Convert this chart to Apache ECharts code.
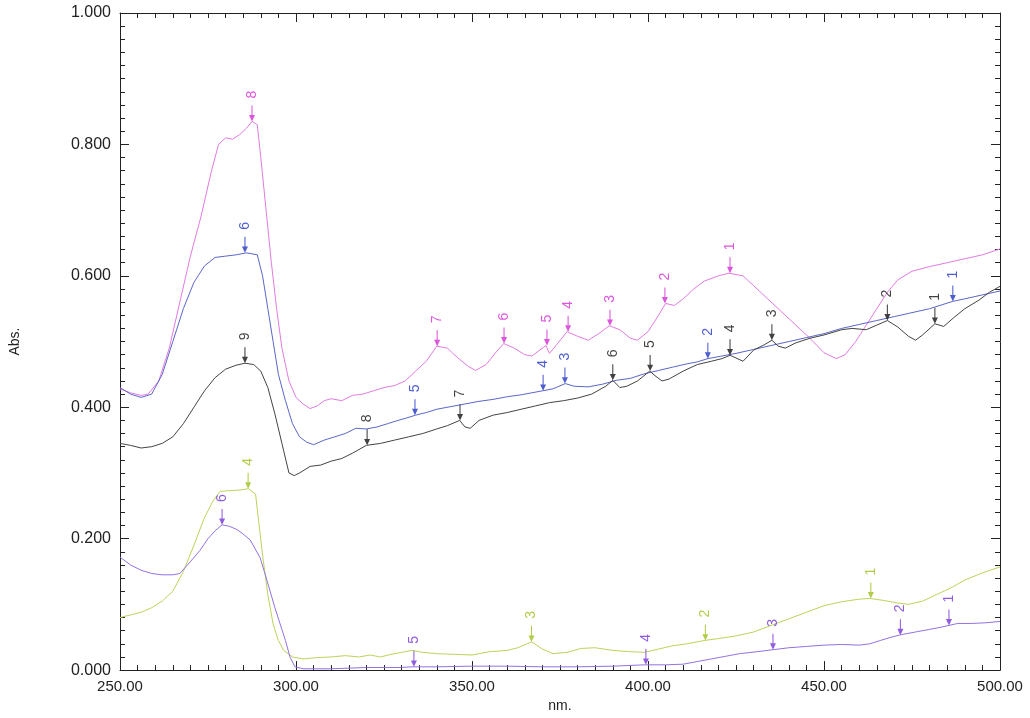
<!DOCTYPE html>
<html>
<head>
<meta charset="utf-8">
<script src="https://cdn.jsdelivr.net/npm/echarts@6/dist/echarts.min.js"></script>
<style>html,body{margin:0;padding:0;background:#fff;}#c{width:1030px;height:718px;}</style>
</head>
<body>
<div id="c"></div>
<script>
// ---- data: [wavelength nm, absorbance] ----
const magentaData = [[250,0.428],[253,0.422],[256,0.418],[258,0.42],[261,0.44],[264,0.49],[267,0.56],[270,0.63],[273,0.69],[276,0.76],[278,0.8],[280,0.81],[282,0.808],[284,0.815],[286,0.825],[287.5,0.835],[289,0.83],[290,0.78],[291.5,0.7],[293,0.62],[294.5,0.55],[296,0.49],[298,0.44],[300,0.415],[302,0.405],[304,0.398],[306,0.402],[308,0.41],[310,0.413],[313,0.41],[316,0.418],[319,0.42],[322,0.425],[325,0.43],[328,0.433],[331,0.44],[334,0.455],[337,0.47],[340,0.493],[343,0.49],[346,0.475],[349,0.462],[351,0.456],[354,0.465],[357,0.485],[359,0.497],[362,0.49],[365,0.48],[367,0.478],[369,0.486],[371,0.494],[372,0.482],[374,0.495],[377,0.515],[380,0.508],[383,0.502],[386,0.512],[389,0.524],[392,0.518],[395,0.505],[397,0.502],[400,0.515],[403,0.54],[405,0.558],[407.5,0.555],[410,0.565],[413,0.58],[416,0.592],[420,0.6],[423,0.604],[427,0.6],[430,0.585],[434,0.565],[438,0.545],[442,0.525],[446,0.505],[450,0.483],[453.5,0.474],[456,0.48],[459,0.5],[462,0.525],[465,0.55],[468,0.575],[471,0.594],[475,0.607],[480,0.614],[485,0.62],[490,0.626],[495,0.632],[500,0.641]];
const blueData = [[250,0.43],[253,0.42],[256,0.415],[259,0.42],[262,0.45],[265,0.5],[268,0.55],[271,0.59],[274,0.615],[277,0.628],[280,0.63],[283,0.632],[286,0.635],[289,0.632],[290.5,0.6],[292,0.55],[293.5,0.5],[295,0.45],[297,0.41],[299,0.375],[301,0.355],[303,0.347],[305,0.343],[308,0.35],[311,0.355],[314,0.36],[317,0.368],[320,0.367],[323,0.37],[326,0.375],[329,0.38],[331,0.383],[334,0.388],[337,0.392],[340,0.397],[344,0.401],[348,0.405],[352,0.409],[356,0.412],[360,0.416],[364,0.419],[367,0.422],[370,0.425],[373,0.428],[376.5,0.436],[379,0.432],[383,0.431],[387,0.435],[391,0.441],[395,0.444],[399,0.451],[403,0.456],[407,0.461],[411,0.466],[414,0.469],[417,0.474],[421,0.478],[425,0.482],[430,0.488],[435,0.494],[440,0.5],[445,0.506],[450,0.512],[455,0.52],[460,0.526],[465,0.532],[470,0.538],[475,0.544],[480,0.55],[486.5,0.561],[490,0.565],[495,0.571],[500,0.577]];
const blackData = [[250,0.345],[253,0.342],[256,0.338],[259,0.34],[262,0.345],[265,0.355],[268,0.375],[271,0.4],[274,0.425],[277,0.445],[280,0.458],[283,0.464],[285.5,0.467],[288,0.465],[290,0.455],[292,0.43],[294,0.39],[296,0.345],[298,0.3],[299.5,0.296],[301,0.3],[304,0.31],[307,0.312],[310,0.318],[313,0.322],[316,0.33],[320,0.342],[324,0.345],[328,0.35],[332,0.355],[336,0.36],[340,0.367],[343,0.372],[346.5,0.38],[348,0.37],[349.5,0.368],[352,0.38],[356,0.388],[360,0.392],[364,0.397],[368,0.402],[372,0.407],[376,0.41],[380,0.414],[384,0.42],[388,0.432],[390,0.441],[392,0.43],[394,0.432],[397,0.44],[400.5,0.455],[402,0.448],[404,0.44],[406,0.443],[410,0.455],[414,0.465],[418,0.47],[421,0.474],[423.3,0.479],[425,0.475],[427,0.47],[430,0.487],[433,0.495],[435.2,0.502],[437,0.493],[439,0.49],[442,0.498],[446,0.505],[450,0.51],[455,0.518],[458,0.52],[462,0.518],[465,0.525],[468,0.532],[471,0.522],[474,0.508],[476,0.502],[478,0.51],[481.5,0.527],[484,0.523],[487,0.537],[490,0.55],[494,0.563],[497,0.575],[500,0.584]];
const yellowData = [[250,0.08],[253,0.084],[256,0.088],[259,0.095],[262,0.105],[265,0.12],[268,0.15],[271,0.19],[274,0.232],[276.5,0.258],[278.5,0.272],[281,0.273],[284,0.274],[286.5,0.276],[288.5,0.268],[290.6,0.171],[292,0.115],[293.5,0.07],[295,0.045],[296.5,0.03],[299,0.02],[302,0.017],[306,0.019],[310,0.02],[314,0.022],[318,0.02],[321,0.023],[324,0.02],[327,0.024],[330,0.027],[333,0.03],[336,0.027],[340,0.025],[345,0.024],[350,0.023],[355,0.028],[360,0.03],[363,0.034],[367,0.043],[370,0.032],[373,0.025],[377,0.027],[381,0.033],[385,0.034],[390,0.03],[395,0.028],[399,0.027],[403,0.032],[407,0.037],[411,0.04],[416,0.045],[420,0.048],[425,0.052],[430,0.058],[435,0.068],[440,0.078],[445,0.088],[450,0.098],[455,0.104],[460,0.108],[463,0.109],[467,0.106],[471,0.102],[474,0.1],[478,0.105],[482,0.115],[486,0.125],[490,0.137],[495,0.148],[500,0.157]];
const purpleData = [[250,0.172],[253,0.16],[256,0.152],[259,0.147],[262,0.145],[265,0.145],[267,0.147],[270,0.165],[272.7,0.182],[275,0.2],[277,0.212],[279,0.221],[281,0.219],[283.2,0.214],[285,0.207],[287,0.198],[289.8,0.171],[291,0.15],[292.6,0.121],[294,0.095],[295.5,0.07],[297,0.045],[298.3,0.02],[299.7,0.005],[302,0.002],[310,0.002],[320,0.004],[330,0.004],[333,0.005],[340,0.005],[350,0.006],[360,0.006],[370,0.005],[380,0.005],[390,0.006],[399,0.008],[405,0.008],[410,0.009],[414,0.013],[418,0.017],[422,0.021],[426,0.025],[431,0.028],[435.5,0.031],[440,0.034],[445,0.036],[450,0.038],[455,0.039],[460,0.038],[463,0.04],[466,0.045],[469,0.05],[472,0.054],[476,0.058],[480,0.062],[483,0.065],[485.5,0.068],[488,0.071],[492,0.071],[496,0.072],[500,0.074]];

// ---- peak markers: [nm, abs, label] ----
const magentaPeaks = [[423.3,0.604,'1'],[404.8,0.558,'2'],[389.2,0.524,'3'],[377.3,0.515,'4'],[371.3,0.494,'5'],[359.1,0.497,'6'],[340.1,0.493,'7'],[287.5,0.835,'8']];
const bluePeaks = [[486.6,0.561,'1'],[417,0.474,'2'],[376.4,0.436,'3'],[370.2,0.425,'4'],[333.8,0.388,'5'],[285.5,0.635,'6']];
const blackPeaks = [[481.5,0.527,'1'],[468,0.532,'2'],[435.2,0.502,'3'],[423.3,0.479,'4'],[400.6,0.455,'5'],[390,0.441,'6'],[346.6,0.38,'7'],[320.2,0.342,'8'],[285.5,0.467,'9']];
const yellowPeaks = [[463.3,0.109,'1'],[416.3,0.045,'2'],[366.9,0.043,'3'],[286.4,0.276,'4']];
const purplePeaks = [[485.5,0.068,'1'],[471.7,0.053,'2'],[435.5,0.031,'3'],[399.4,0.008,'4'],[333.5,0.005,'5'],[279,0.221,'6']];

const xTicks = {min:250, max:500, interval:50};
const yTicks = {min:0, max:1, interval:0.2};

const FONT = 'Liberation Sans, Arial, sans-serif';
const arrowPath = 'path://M4.3,0 L5.7,0 L5.7,12 L9,12 L5,20 L1,12 L4.3,12 Z';

function lineSeries(data, color) {
  return {type:'line', data:data, showSymbol:false, symbol:'none', smooth:false,
    lineStyle:{color:color, width:1}, animation:false, z:2};
}
function peakSeries(peaks, color) {
  return {type:'scatter', animation:false, z:3,
    data: peaks.map(p => ({value:[p[0],p[1]], name:p[2]})),
    symbol: arrowPath, symbolSize:[6,16], symbolOffset:[0,'-50%'],
    itemStyle:{color:color},
    label:{show:true, position:'top', distance:7, rotate:90, align:'left', verticalAlign:'middle',
      formatter: d => d.name, color:color, fontSize:14, fontFamily:FONT},
    emphasis:{disabled:true}, silent:true};
}

const baseAxis = {
  axisLine:{show:true, onZero:false, lineStyle:{color:'#222', width:1}},
  axisTick:{show:true, inside:true, length:9, lineStyle:{color:'#222'}},
  minorTick:{show:true, splitNumber:10, length:5, lineStyle:{color:'#222'}},
  splitLine:{show:false}
};

const chart = echarts.init(document.getElementById('c'), null, {renderer:'canvas'});
chart.setOption({
  backgroundColor:'#fff',
  animation:false,
  grid:{left:120, right:30, top:13, bottom:45, containLabel:false},
  xAxis:[
    Object.assign({}, baseAxis, {type:'value', position:'bottom', min:xTicks.min, max:xTicks.max, interval:xTicks.interval,
      name:'nm.', nameLocation:'middle', nameGap:27, nameTextStyle:{fontSize:14, fontFamily:FONT, color:'#222'},
      axisLabel:{show:true, margin:9, fontSize:15, fontFamily:FONT, color:'#222', formatter:v=>v.toFixed(2)}}),
    Object.assign({}, baseAxis, {type:'value', position:'top', min:xTicks.min, max:xTicks.max, interval:xTicks.interval,
      axisLabel:{show:false}})
  ],
  yAxis:[
    Object.assign({}, baseAxis, {type:'value', position:'left', min:yTicks.min, max:yTicks.max, interval:yTicks.interval,
      name:'Abs.', nameLocation:'middle', nameGap:98, nameRotate:90, nameTextStyle:{fontSize:14, fontFamily:FONT, color:'#222'},
      axisLabel:{show:true, margin:9, fontSize:16, fontFamily:FONT, color:'#222', formatter:v=>v.toFixed(3)}}),
    Object.assign({}, baseAxis, {type:'value', position:'right', min:yTicks.min, max:yTicks.max, interval:yTicks.interval,
      axisLabel:{show:false}})
  ],
  series:[
    lineSeries(magentaData, '#e27ae2'),
    lineSeries(blueData, '#5c66c8'),
    lineSeries(blackData, '#444444'),
    lineSeries(yellowData, '#bcd35a'),
    lineSeries(purpleData, '#9272e2'),
    peakSeries(magentaPeaks, '#d52ad5'),
    peakSeries(bluePeaks, '#2234c4'),
    peakSeries(blackPeaks, '#111111'),
    peakSeries(yellowPeaks, '#9cbf1c'),
    peakSeries(purplePeaks, '#7434d6')
  ]
});
</script>
</body>
</html>
